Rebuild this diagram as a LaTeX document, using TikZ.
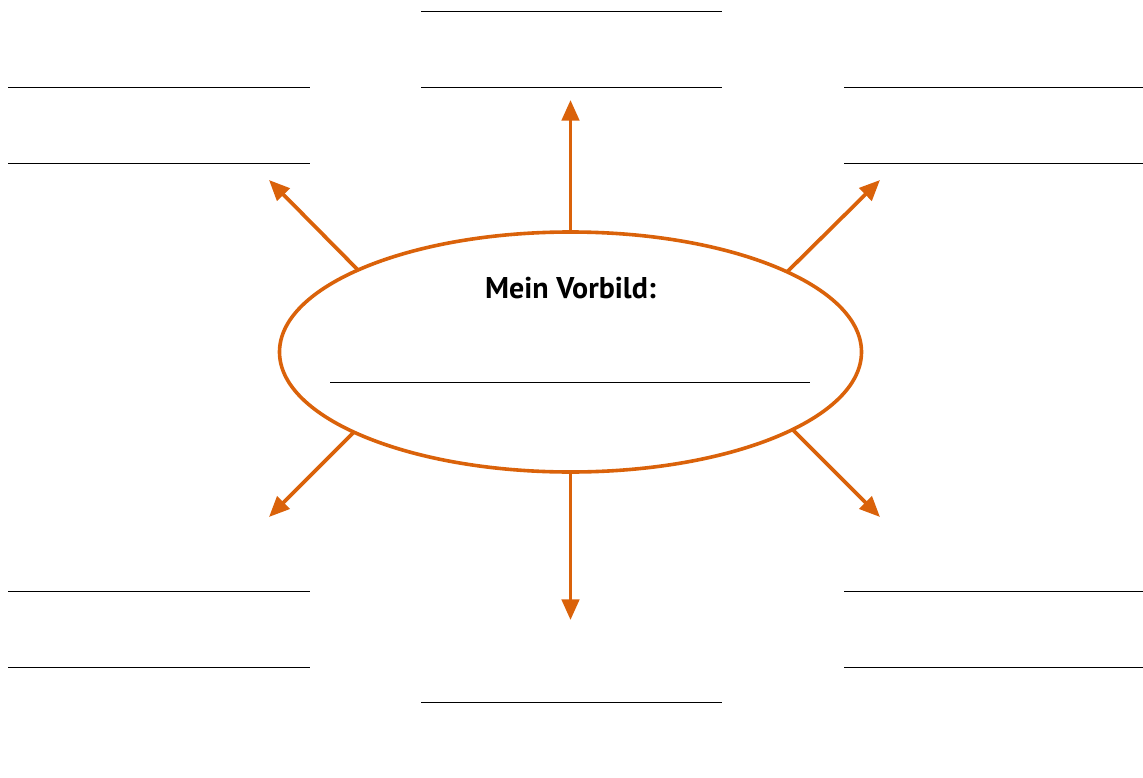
\documentclass[tikz,border=0pt]{standalone}
\usepackage{fontspec}
\setmainfont{PT Sans}
\usetikzlibrary{arrows.meta,shapes.geometric}
\definecolor{vorange}{RGB}{218,98,10}
\tikzset{
  blank/.style={draw=black, line width=0.75pt},
  ray/.style={draw=vorange, line width=2.8pt, -{Triangle[length=15.5pt,width=13pt]}},
  oval/.style={ellipse, draw=vorange, line width=2.7pt, minimum width=436.5pt, minimum height=180pt, inner sep=0pt},
  title/.style={font=\bfseries\fontsize{22.5}{26}\selectfont, text=black, inner sep=0pt}
}
\begin{document}
\begin{tikzpicture}[x=0.75pt,y=-0.75pt]
\useasboundingbox (0,0) rectangle (1143,778);
% centre oval
\node[oval] (e) at (570.5,352) {};
\node[title] (t) at (570.5,288) {Mein Vorbild:};
\draw[blank] (330,382) -- (810,382);
% ray start / tip coordinates
\coordinate (sN) at (570.5,233);
\coordinate (tN) at (570.5,100);
\coordinate (sS) at (570.5,472);
\coordinate (tS) at (570.5,620);
\coordinate (sNW) at (358,270);
\coordinate (tNW) at (269,180);
\coordinate (sNE) at (787,272);
\coordinate (tNE) at (880,180);
\coordinate (sSW) at (354,432);
\coordinate (tSW) at (269,517);
\coordinate (sSE) at (793,430);
\coordinate (tSE) at (880,517);
\draw[ray] (sN) -- (tN);
\draw[ray] (sS) -- (tS);
\draw[ray] (sNW) -- (tNW);
\draw[ray] (sNE) -- (tNE);
\draw[ray] (sSW) -- (tSW);
\draw[ray] (sSE) -- (tSE);
% writing lines
\draw[blank] (421,11) -- (722,11);
\draw[blank] (421,87) -- (722,87);
\draw[blank] (8,87) -- (310,87);
\draw[blank] (8,163) -- (310,163);
\draw[blank] (844,87) -- (1143,87);
\draw[blank] (844,163) -- (1143,163);
\draw[blank] (8,591) -- (310,591);
\draw[blank] (8,667) -- (310,667);
\draw[blank] (844,591) -- (1143,591);
\draw[blank] (844,667) -- (1143,667);
\draw[blank] (421,702) -- (722,702);
\end{tikzpicture}
\end{document}
